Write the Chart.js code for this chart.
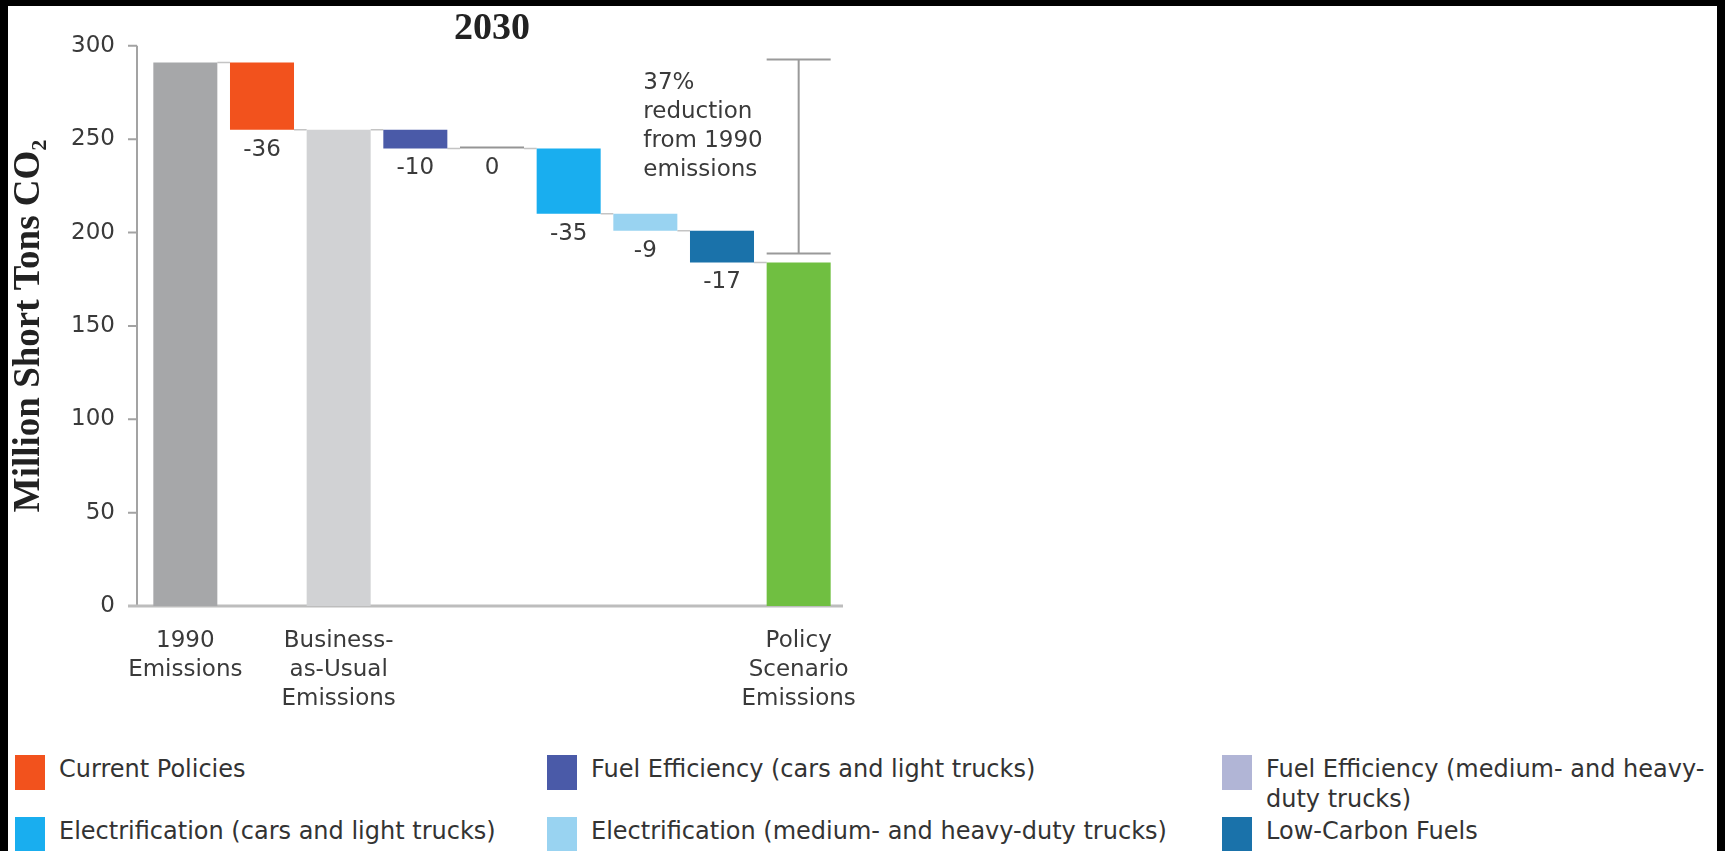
<!DOCTYPE html>
<html>
<head>
<meta charset="utf-8">
<script src="https://cdn.jsdelivr.net/npm/chart.js@4.4.1/dist/chart.umd.min.js"></script>
<style>
  html, body { margin: 0; padding: 0; background: #000; }
  body { width: 1725px; height: 851px; position: relative; overflow: hidden; }
  #sheet { position: absolute; left: 8px; top: 6px; width: 1709px; height: 845px; background: #fff; }
  #chart-box { position: absolute; left: 0; top: 0; width: 1000px; height: 730px; }
  .legend-item { position: absolute; font-family: 'DejaVu Sans', sans-serif; font-size: 24px; line-height: 30px; color: #333; }
  .legend-item.one-line { white-space: nowrap; }
  .legend-item .swatch { position: absolute; left: 0; top: 1px; width: 30px; height: 35px; }
  .legend-item .text { display: block; margin-left: 44px; }
</style>
</head>
<body>
<div id="sheet"></div>
<div id="chart-box"><canvas id="waterfall"></canvas></div>
<div id="legend"></div>
<script>
// categories along the x axis (one bar each)
const categories = [
  '1990 Emissions',
  'Current Policies',
  'Business-as-Usual Emissions',
  'Fuel Efficiency (cars and light trucks)',
  'Fuel Efficiency (medium- and heavy-duty trucks)',
  'Electrification (cars and light trucks)',
  'Electrification (medium- and heavy-duty trucks)',
  'Low-Carbon Fuels',
  'Policy Scenario Emissions'
];
const tickLabels = [
  ['1990', 'Emissions'], '', ['Business-', 'as-Usual', 'Emissions'], '', '', '', '', '',
  ['Policy', 'Scenario', 'Emissions']
];
const yTicks = [0, 50, 100, 150, 200, 250, 300];

// totals (million short tons CO2)
const emissions1990 = 291;
const emissionsBAU = 255;
const emissionsPolicy = 184;
// reductions, in the order they appear after each total
const currentPolicies = [-36];
const measures = [-10, 0, -35, -9, -17];

const barColors = ['#a6a7a9', '#f2521d', '#d1d2d4', '#4a5aa8', '#b1b5d6', '#19aeef', '#99d3f1', '#1a72aa', '#70bf41'];
const noteLines = ['37%', 'reduction', 'from 1990', 'emissions'];

// build floating bars for the waterfall
const ranges = [];
const deltas = [];
const isTotal = [];
function addTotal(v) { ranges.push([0, v]); deltas.push(null); isTotal.push(true); return v; }
function addSteps(level, steps) {
  steps.forEach(function(d) {
    ranges.push([level + d, level]);
    deltas.push(d);
    isTotal.push(false);
    level += d;
  });
  return level;
}
addSteps(addTotal(emissions1990), currentPolicies);
addSteps(addTotal(emissionsBAU), measures);
addTotal(emissionsPolicy);

const textColor = '#3a3a3a';
const sansFont = 'DejaVu Sans';

// axes, connectors, labels and the bracket note
const waterfallExtras = {
  id: 'waterfallExtras',
  beforeDatasetsDraw(chart) {
    const ctx = chart.ctx;
    const area = chart.chartArea;
    const y = chart.scales.y;
    const axisX = area.left - 10;
    ctx.save();
    ctx.strokeStyle = '#a3a3a3';
    ctx.lineWidth = 2;
    ctx.beginPath();
    ctx.moveTo(axisX, y.getPixelForValue(yTicks[yTicks.length - 1]));
    ctx.lineTo(axisX, y.getPixelForValue(0));
    yTicks.forEach(function(t) {
      const py = y.getPixelForValue(t);
      ctx.moveTo(axisX - 9, py);
      ctx.lineTo(axisX, py);
    });
    ctx.stroke();
    ctx.strokeStyle = '#bdbdbd';
    ctx.lineWidth = 3;
    ctx.beginPath();
    ctx.moveTo(axisX - 9, y.getPixelForValue(0));
    ctx.lineTo(area.right + 6, y.getPixelForValue(0));
    ctx.stroke();

    // connectors between neighbouring bars
    const bars = chart.getDatasetMeta(0).data;
    ctx.strokeStyle = '#c4c4c4';
    ctx.lineWidth = 1.5;
    ctx.beginPath();
    for (let i = 0; i < bars.length - 1; i++) {
      const endLevel = isTotal[i] ? ranges[i][1] : ranges[i][0];
      const py = y.getPixelForValue(endLevel);
      ctx.moveTo(bars[i].x + bars[i].width / 2, py);
      ctx.lineTo(bars[i + 1].x - bars[i + 1].width / 2, py);
    }
    ctx.stroke();
    ctx.restore();
  },
  afterDatasetsDraw(chart) {
    const ctx = chart.ctx;
    const x = chart.scales.x;
    const y = chart.scales.y;
    const bars = chart.getDatasetMeta(0).data;
    ctx.save();
    ctx.fillStyle = textColor;
    ctx.font = '23px "' + sansFont + '"';
    ctx.textAlign = 'center';
    ctx.textBaseline = 'middle';
    bars.forEach(function(bar, i) {
      if (deltas[i] === null) return;
      ctx.fillText(String(deltas[i]), bar.x, Math.max(bar.y, bar.base) + 20);
    });

    // bracket over the policy bar
    const last = bars[bars.length - 1];
    const half = last.width / 2;
    const top = y.getPixelForValue(emissions1990) - 3;
    const bottom = y.getPixelForValue(emissionsPolicy) - 9;
    ctx.strokeStyle = '#9a9a9a';
    ctx.lineWidth = 2;
    ctx.beginPath();
    ctx.moveTo(last.x - half, top); ctx.lineTo(last.x + half, top);
    ctx.moveTo(last.x, top); ctx.lineTo(last.x, bottom);
    ctx.moveTo(last.x - half, bottom); ctx.lineTo(last.x + half, bottom);
    ctx.stroke();

    // note text
    ctx.textAlign = 'left';
    const noteX = x.getPixelForValue(6) - 2;
    const noteY = y.getPixelForValue(280);
    noteLines.forEach(function(line, i) {
      ctx.fillText(line, noteX, noteY + i * 29);
    });
    ctx.restore();
  }
};

const ctx = document.getElementById('waterfall').getContext('2d');
new Chart(ctx, {
  type: 'bar',
  data: {
    labels: categories,
    datasets: [{
      data: ranges,
      // a zero step shows up as a thin grey rule
      backgroundColor: barColors.map(function(c, i) { return deltas[i] === 0 ? '#959595' : c; }),
      borderWidth: 0,
      borderSkipped: false,
      minBarLength: 2,
      categoryPercentage: 1,
      barPercentage: 0.835
    }]
  },
  options: {
    responsive: true,
    maintainAspectRatio: false,
    animation: false,
    layout: { padding: { left: 8, right: 163, top: 9, bottom: 24 } },
    plugins: {
      legend: { display: false },
      tooltip: { enabled: false },
      title: {
        display: true,
        text: '2030',
        fullSize: false,
        color: '#222',
        padding: 0,
        font: { family: 'Liberation Serif', weight: 'bold', size: 38, lineHeight: 0.9 }
      }
    },
    scales: {
      x: {
        grid: { display: false, drawTicks: false },
        border: { display: false },
        ticks: {
          autoSkip: false,
          maxRotation: 0,
          padding: 21,
          color: textColor,
          font: { family: sansFont, size: 23, lineHeight: 1.26 },
          callback: function(value, index) { return tickLabels[index]; }
        },
        afterFit: function(scale) { scale.height = 100; }
      },
      y: {
        min: 0,
        max: 300,
        grid: { display: false, drawTicks: false },
        border: { display: false },
        ticks: {
          stepSize: 50,
          padding: 32,
          color: textColor,
          font: { family: sansFont, size: 23 }
        },
        title: {
          display: true,
          text: 'Million Short Tons CO\u2082',
          color: '#222',
          padding: 0,
          font: { family: 'Liberation Serif', weight: 'bold', size: 37, lineHeight: 1.17 }
        },
        afterFit: function(scale) { scale.width = 139; }
      }
    }
  },
  plugins: [waterfallExtras]
});

// legend: the reduction measures, three to a row
const legendIdx = [1, 3, 4, 5, 6, 7];
const colLeft = [15, 547, 1222];
const colWidth = [520, 660, 490];
const rowTop = [754, 816];
const legend = document.getElementById('legend');
legendIdx.forEach(function(idx, n) {
  const col = n % 3, row = Math.floor(n / 3);
  const item = document.createElement('div');
  item.className = 'legend-item' + (col < 2 ? ' one-line' : '');
  item.style.left = colLeft[col] + 'px';
  item.style.top = rowTop[row] + 'px';
  item.style.width = colWidth[col] + 'px';
  const sw = document.createElement('span');
  sw.className = 'swatch';
  sw.style.background = barColors[idx];
  const tx = document.createElement('span');
  tx.className = 'text';
  tx.textContent = categories[idx];
  item.appendChild(sw);
  item.appendChild(tx);
  legend.appendChild(item);
});
</script>
</body>
</html>
